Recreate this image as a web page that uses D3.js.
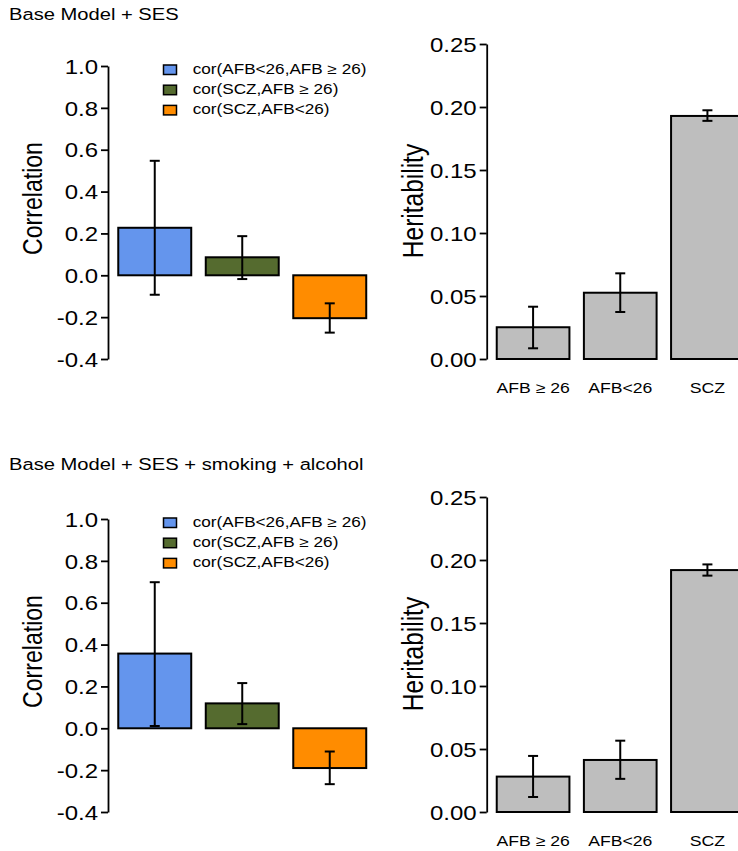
<!DOCTYPE html>
<html>
<head>
<meta charset="utf-8">
<script src="https://cdn.jsdelivr.net/npm/d3@7"></script>
<style>
  body { margin: 0; background: #fff; }
  svg { display: block; font-family: "Liberation Sans", Arial, sans-serif; }
</style>
</head>
<body>
<div id="chart"></div>
<script>
// chart data
var titles = ["Base Model + SES", "Base Model + SES + smoking + alcohol"];
var corrCats = ["cor(AFB<26,AFB \u2265 26)", "cor(SCZ,AFB \u2265 26)", "cor(SCZ,AFB<26)"];
var corrColors = ["#6495ED", "#556B2F", "#FF8C00"];
var herCats = ["AFB \u2265 26", "AFB<26", "SCZ"];
var corrTicks = [-0.4, -0.2, 0.0, 0.2, 0.4, 0.6, 0.8, 1.0];
var herTicks = [0.00, 0.05, 0.10, 0.15, 0.20, 0.25];

// model 1: base + SES
var corrSES   = [0.227, 0.086, -0.205];
var corrSESLo = [-0.093, -0.018, -0.274];
var corrSESHi = [0.547, 0.187, -0.134];
var herSES    = [0.0252, 0.0526, 0.1929];
var herSESLo  = [0.0085, 0.0373, 0.1890];
var herSESHi  = [0.0415, 0.0680, 0.1974];

// model 2: base + SES + smoking + alcohol
var corrSmk   = [0.357, 0.119, -0.190];
var corrSmkLo = [0.011, 0.020, -0.267];
var corrSmkHi = [0.698, 0.216, -0.111];
var herSmk    = [0.0281, 0.0413, 0.1920];
var herSmkLo  = [0.0119, 0.0263, 0.1876];
var herSmkHi  = [0.0445, 0.0566, 0.1965];

// the picture is stretched sideways, so text gets the same stretch
var SX = 1.2;

var svg = d3.select("#chart")
  .append("svg")
    .attr("width", 738)
    .attr("height", 851);

function hText(g, x, y, str, size, anchor) {
  return g.append("text")
    .attr("transform", "translate(" + x + "," + y + ") scale(" + SX + ",1)")
    .attr("font-size", size + "px")
    .attr("text-anchor", anchor || "start")
    .attr("fill", "#000")
    .text(str);
}

function vText(g, x, y, str, size) {
  return g.append("text")
    .attr("transform", "translate(" + x + "," + y + ") scale(" + SX + ",1) rotate(-90)")
    .attr("font-size", size + "px")
    .attr("text-anchor", "middle")
    .attr("fill", "#000")
    .text(str);
}

function yAxis(g, x0, y, ticks, fmt) {
  var f = d3.format(fmt);
  var ax = g.append("g")
    .attr("transform", "translate(" + x0 + ",0)")
    .call(d3.axisLeft(y).tickValues(ticks).tickSize(7).tickSizeOuter(0));
  ax.select(".domain").attr("stroke", "#000").attr("stroke-width", 1.8);
  ax.selectAll(".tick line").attr("stroke", "#000").attr("stroke-width", 1.8);
  ax.selectAll(".tick text")
    .attr("x", null)
    .attr("dy", "0.36em")
    .attr("transform", "translate(-10,0) scale(" + SX + ",1)")
    .attr("font-size", "20px")
    .attr("font-family", "Liberation Sans, Arial, sans-serif")
    .attr("fill", "#000")
    .text(function(d) { return f(d).replace("\u2212", "-"); });
  return ax;
}

function errBars(g, x, y, lo, hi) {
  var eb = g.append("g").attr("stroke", "#000").attr("stroke-width", 2);
  d3.range(lo.length).forEach(function(i) {
    var cx = x(i) + x.bandwidth() / 2;
    eb.append("line").attr("x1", cx).attr("x2", cx).attr("y1", y(lo[i])).attr("y2", y(hi[i]));
    eb.append("line").attr("x1", cx - 5).attr("x2", cx + 5).attr("y1", y(lo[i])).attr("y2", y(lo[i]));
    eb.append("line").attr("x1", cx - 5).attr("x2", cx + 5).attr("y1", y(hi[i])).attr("y2", y(hi[i]));
  });
}

function drawCorr(dy, vals, lo, hi, title) {
  var g = svg.append("g");
  hText(g, 9, 20 + dy - 3 * (dy > 0), title, 16.8);

  var y = d3.scaleLinear().domain([-0.4, 1.0]).range([359 + dy, 66 + dy]);
  var x = d3.scaleBand().domain(d3.range(vals.length))
    .range([111, 373.5]).paddingInner(0.166).paddingOuter(0.083);

  g.append("g").selectAll("rect")
    .data(vals)
    .enter()
    .append("rect")
      .attr("x", function(d, i) { return x(i); })
      .attr("width", x.bandwidth())
      .attr("y", function(d) { return y(Math.max(0, d)); })
      .attr("height", function(d) { return Math.abs(y(d) - y(0)); })
      .attr("fill", function(d, i) { return corrColors[i]; })
      .attr("stroke", "#000")
      .attr("stroke-width", 2);

  errBars(g, x, y, lo, hi);
  yAxis(g, 108, y, corrTicks, ".1f");
  vText(g, 41.7, 198.5 + dy, "Correlation", 23.1);

  // legend
  corrCats.forEach(function(c, i) {
    var ly = 74 + dy + i * 20.2;
    g.append("rect")
      .attr("x", 163.5).attr("y", ly - 9)
      .attr("width", 13).attr("height", 9.5)
      .attr("fill", corrColors[i])
      .attr("stroke", "#000").attr("stroke-width", 1.5);
    hText(g, 192.7, ly, c, 14.3);
  });
}

function drawHer(dy, vals, lo, hi) {
  var g = svg.append("g");
  var y = d3.scaleLinear().domain([0, 0.25]).range([359 + dy, 44 + dy]);
  var x = d3.scaleBand().domain(d3.range(vals.length))
    .range([489.5, 751]).paddingInner(0.166).paddingOuter(0.083);

  g.append("g").selectAll("rect")
    .data(vals)
    .enter()
    .append("rect")
      .attr("x", function(d, i) { return x(i); })
      .attr("width", x.bandwidth())
      .attr("y", function(d) { return y(d); })
      .attr("height", function(d) { return y(0) - y(d); })
      .attr("fill", "#BEBEBE")
      .attr("stroke", "#000")
      .attr("stroke-width", 2);

  errBars(g, x, y, lo, hi);
  yAxis(g, 486.7, y, herTicks, ".2f");
  vText(g, 422.5, 201 + dy, "Heritability", 24.5);

  herCats.forEach(function(c, i) {
    hText(g, x(i) + x.bandwidth() / 2, 392.7 + dy, c, 14.7, "middle");
  });
}

drawCorr(0, corrSES, corrSESLo, corrSESHi, titles[0]);
drawHer(0, herSES, herSESLo, herSESHi);
drawCorr(453, corrSmk, corrSmkLo, corrSmkHi, titles[1]);
drawHer(453, herSmk, herSmkLo, herSmkHi);
</script>
</body>
</html>
